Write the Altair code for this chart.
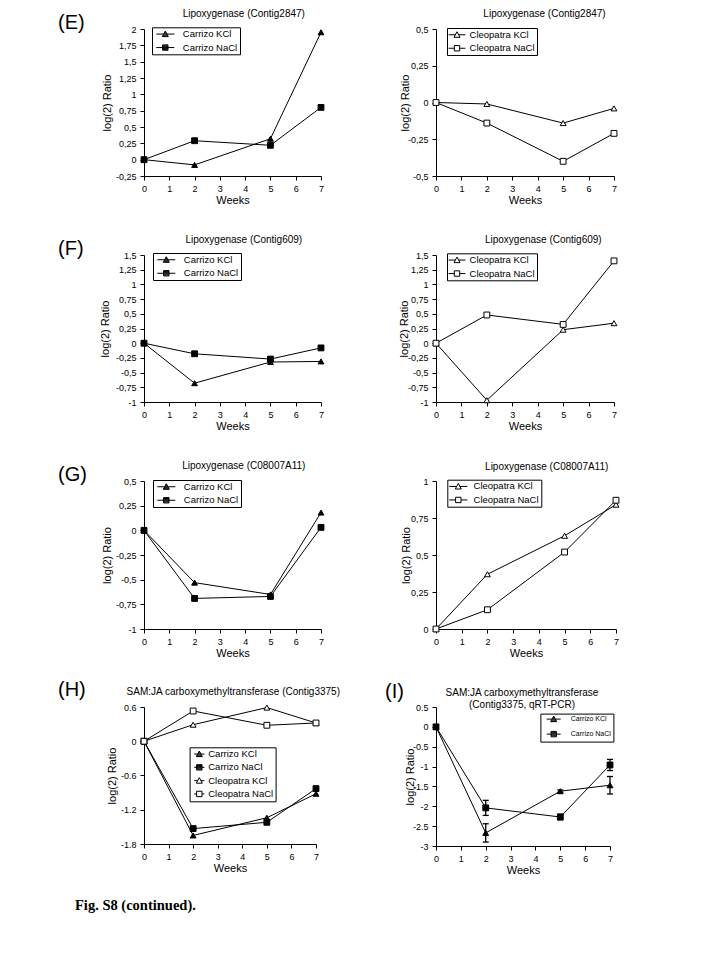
import altair as alt
import pandas as pd

FONT = "Liberation Sans"

weeks = [0, 2, 5, 7]

# (E) Lipoxygenase (Contig2847)
e_carrizo_kcl = [0, -0.08, 0.32, 1.95]
e_carrizo_nacl = [0, 0.29, 0.22, 0.80]
e_cleo_kcl = [0, -0.01, -0.14, -0.04]
e_cleo_nacl = [0, -0.14, -0.40, -0.21]

# (F) Lipoxygenase (Contig609)
f_carrizo_kcl = [0, -0.68, -0.32, -0.31]
f_carrizo_nacl = [0, -0.18, -0.27, -0.08]
f_cleo_kcl = [0, -0.97, 0.23, 0.34]
f_cleo_nacl = [0, 0.48, 0.32, 1.40]

# (G) Lipoxygenase (C08007A11)
g_carrizo_kcl = [0, -0.53, -0.65, 0.18]
g_carrizo_nacl = [0, -0.69, -0.67, 0.03]
g_cleo_kcl = [0, 0.37, 0.63, 0.84]
g_cleo_nacl = [0, 0.13, 0.52, 0.87]

# (H) SAM:JA carboxymethyltransferase (Contig3375)
h_carrizo_kcl = [0, -1.65, -1.34, -0.92]
h_carrizo_nacl = [0, -1.53, -1.42, -0.83]
h_cleo_kcl = [0, 0.29, 0.59, 0.32]
h_cleo_nacl = [0, 0.53, 0.28, 0.32]

# (I) qRT-PCR with error bars
i_carrizo_kcl = [0, -2.67, -1.62, -1.47]
i_carrizo_kcl_err = [0, 0.23, 0.03, 0.22]
i_carrizo_nacl = [0, -2.04, -2.27, -0.96]
i_carrizo_nacl_err = [0, 0.19, 0.07, 0.14]

ticks_e_left = [-0.25, 0, 0.25, 0.5, 0.75, 1, 1.25, 1.5, 1.75, 2]
ticks_e_right = [-0.5, -0.25, 0, 0.25, 0.5]
ticks_f = [-1, -0.75, -0.5, -0.25, 0, 0.25, 0.5, 0.75, 1, 1.25, 1.5]
ticks_g_left = [-1, -0.75, -0.5, -0.25, 0, 0.25, 0.5]
ticks_g_right = [0, 0.25, 0.5, 0.75, 1]
ticks_h = [-1.8, -1.2, -0.6, 0, 0.6]
ticks_i = [-3, -2.5, -2, -1.5, -1, -0.5, 0, 0.5]
week_ticks = [0, 1, 2, 3, 4, 5, 6, 7]

ALL_SERIES = ["Carrizo KCl", "Carrizo NaCl", "Cleopatra KCl", "Cleopatra NaCl"]
ALL_SHAPES = ["triangle-up", "square", "triangle-up", "square"]
ALL_FILLS = ["black", "black", "white", "white"]

TRI_OUT = "M0,-1L1,0.85L-1,0.85Z"
TRI_FILL = ("M-0.18,-0.67L0.18,-0.67M-0.36,-0.33L0.36,-0.33M-0.54,0L0.54,0"
            "M-0.72,0.33L0.72,0.33M-0.9,0.67L0.9,0.67")
SQ_OUT = "M-0.9,-0.9L0.9,-0.9L0.9,0.9L-0.9,0.9Z"
SQ_FILL = ("M-0.9,-0.6L0.9,-0.6M-0.9,-0.3L0.9,-0.3M-0.9,0L0.9,0"
           "M-0.9,0.3L0.9,0.3M-0.9,0.6L0.9,0.6")


def legend_path(name, stub):
    s = f"{stub:.2f}"
    if "KCl" in name:
        p = f"M-{s},0L-0.54,0M0.54,0L{s},0" + TRI_OUT
        if name.startswith("Carrizo"):
            p += TRI_FILL
    else:
        p = f"M-{s},0L-0.9,0M0.9,0L{s},0" + SQ_OUT
        if name.startswith("Carrizo"):
            p += SQ_FILL
    return p


def make_df(series, key):
    rows = []
    for name, vals in series:
        for w, v in zip(weeks, vals):
            rows.append({"week": w, "value": v, "series": name, "leg_" + key: name})
    return pd.DataFrame(rows)


def text_layer(txt, tx, ty, font=FONT, fs=10, weight="normal", align="left",
               baseline="alphabetic"):
    return alt.Chart(pd.DataFrame({"t": [txt]})).mark_text(
        font=font, fontSize=fs, fontWeight=weight, align=align, baseline=baseline,
        color="black", lineBreak="\n", lineHeight=12.5,
    ).encode(text="t:N", x=alt.value(tx), y=alt.value(ty))


def panel(key, series, ydom, yvals, w, h, title, tx, ty, ytp, lx, ly,
          stub, center_in, label_in, lfs=9.5, rp=2.5, comma=True,
          extra=(), errors=None):
    df = make_df(series, key)
    names = [n for n, _ in series]
    expr = "replace(toString(datum.value), '.', ',')" if comma else "toString(datum.value)"
    x = alt.X("week:Q", scale=alt.Scale(domain=[0, 7], nice=False, zero=False),
              axis=alt.Axis(values=week_ticks, title="Weeks", labelFlush=False,
                            labelOverlap=False, labelPadding=4, titlePadding=1))
    y = alt.Y("value:Q", scale=alt.Scale(domain=ydom, nice=False, zero=False),
              axis=alt.Axis(values=yvals, labelExpr=expr, title="log(2) Ratio",
                            titlePadding=ytp, minExtent=22, maxExtent=22,
                            labelOverlap=False, labelPadding=4))
    pad = 2
    size = max(7, lfs)
    so = center_in - pad - size / 2
    lo = label_in - pad - size
    legend = alt.Legend(
        title=None, orient="none", legendX=lx, legendY=ly,
        strokeColor="black", fillColor="white", padding=pad,
        labelFont=FONT, labelFontSize=lfs, labelColor="black",
        symbolSize=36, symbolOffset=so, labelOffset=lo, rowPadding=rp,
        symbolOpacity=1, symbolStrokeColor="black", symbolStrokeWidth=1,
        symbolFillColor="white",
    )
    paths = [legend_path(n, stub) for n in names]
    base = alt.Chart(df)
    layers = []
    if errors is not None:
        edf, cdf = errors
        layers.append(alt.Chart(edf).mark_rule(color="black", strokeWidth=1.3).encode(
            x=x, y=y, y2="value2:Q"))
        layers.append(alt.Chart(cdf).mark_tick(color="black", orient="horizontal",
                                               size=6, thickness=1.3, opacity=1).encode(x=x, y=y))
    layers.append(base.mark_line(color="black", strokeWidth=1).encode(
        x=x, y=y, detail="series:N"))
    layers.append(base.mark_point(stroke="black", strokeWidth=1, opacity=1, size=34).encode(
        x=x, y=y,
        shape=alt.Shape("series:N", scale=alt.Scale(domain=ALL_SERIES, range=ALL_SHAPES),
                        legend=None),
        fill=alt.Fill("series:N", scale=alt.Scale(domain=ALL_SERIES, range=ALL_FILLS),
                      legend=None),
    ))
    # invisible layer that only supplies the legend (line + marker symbols)
    layers.append(base.mark_point(color="black", filled=False, opacity=0, size=36,
                                  strokeWidth=1).encode(
        x=x, y=y,
        shape=alt.Shape("leg_" + key + ":N", scale=alt.Scale(domain=names, range=paths),
                        legend=legend),
    ))
    layers.append(text_layer(title, tx, ty, align="center"))
    for item in extra:
        layers.append(item)
    return alt.layer(*layers).resolve_scale(shape="independent").properties(
        width=w, height=h)


def plabel(txt, tx, ty):
    return text_layer(txt, tx, ty, fs=20, baseline="middle")


e_l = panel("el", [("Carrizo KCl", e_carrizo_kcl), ("Carrizo NaCl", e_carrizo_nacl)],
            [-0.25, 2], ticks_e_left, 177, 147, "Lipoxygenase (Contig2847)",
            99.8, -12.5, 10, 8, -1.7, 3, 13.3, 24.3, extra=[plabel("(E)", -86, -6)])
e_r = panel("er", [("Cleopatra KCl", e_cleo_kcl), ("Cleopatra NaCl", e_cleo_nacl)],
            [-0.5, 0.5], ticks_e_right, 178, 147, "Lipoxygenase (Contig2847)",
            108.5, -11.7, 3.7, 11, -1, 2.8, 10, 19.3)
f_l = panel("fl", [("Carrizo KCl", f_carrizo_kcl), ("Carrizo NaCl", f_carrizo_nacl)],
            [-1, 1.5], ticks_f, 177, 147, "Lipoxygenase (Contig609)",
            99.8, -11.7, 11.2, 9, -2, 3, 13.3, 24.3, extra=[plabel("(F)", -86, -5.6)])
f_r = panel("fr", [("Cleopatra KCl", f_cleo_kcl), ("Cleopatra NaCl", f_cleo_nacl)],
            [-1, 1.5], ticks_f, 178, 147, "Lipoxygenase (Contig609)",
            107.3, -12.4, 4.8, 11, -1.7, 2.8, 10, 19.3)
g_l = panel("gl", [("Carrizo KCl", g_carrizo_kcl), ("Carrizo NaCl", g_carrizo_nacl)],
            [-1, 0.5], ticks_g_left, 177, 148, "Lipoxygenase (C08007A11)",
            99.8, -11.7, 9.5, 9, -1, 3, 13.3, 24.3, extra=[plabel("(G)", -86, -6)])
g_r = panel("gr", [("Cleopatra KCl", g_cleo_kcl), ("Cleopatra NaCl", g_cleo_nacl)],
            [0, 1], ticks_g_right, 180, 148, "Lipoxygenase (C08007A11)",
            110.7, -10.7, 2.8, 11.3, -1.3, 3, 11, 22)
h_p = panel("h", [("Carrizo KCl", h_carrizo_kcl), ("Carrizo NaCl", h_carrizo_nacl),
                  ("Cleopatra KCl", h_cleo_kcl), ("Cleopatra NaCl", h_cleo_nacl)],
            [-1.8, 0.6], ticks_h, 172, 137,
            "SAM:JA carboxymethyltransferase (Contig3375)",
            89.3, -11.7, 4.5, 45.6, 40.3, 1.7, 9.7, 15.7, rp=2.3, comma=False,
            extra=[plabel("(H)", -86, -17),
                   text_layer("Fig. S8 (continued).", -69, 203, font="Liberation Serif",
                              fs=14.5, weight="bold")])

err_rows, cap_rows = [], []
for name, vals, errs in [("Carrizo KCl", i_carrizo_kcl, i_carrizo_kcl_err),
                         ("Carrizo NaCl", i_carrizo_nacl, i_carrizo_nacl_err)]:
    for wk, v, e in zip(weeks, vals, errs):
        if e > 0:
            err_rows.append({"week": wk, "value": v - e, "value2": v + e})
            cap_rows.append({"week": wk, "value": v - e})
            cap_rows.append({"week": wk, "value": v + e})
i_p = panel("i", [("Carrizo KCl", i_carrizo_kcl), ("Carrizo NaCl", i_carrizo_nacl)],
            [-3, 0.5], ticks_i, 174, 139,
            "SAM:JA carboxymethyltransferase\n(Contig3375, qRT-PCR)",
            86, -11.5, -1, 104.4, 6.6, 2.33, 13.3, 22.6, lfs=7, rp=4, comma=False,
            extra=[plabel("(I)", -51, -15)],
            errors=(pd.DataFrame(err_rows), pd.DataFrame(cap_rows)))

chart = alt.concat(e_l, e_r, f_l, f_r, g_l, g_r, h_p, i_p, columns=2,
                   spacing={"row": 78, "column": 112}).resolve_scale(
    shape="independent", fill="independent").properties(
    bounds="flush", align="all", background="white",
    padding={"left": 50, "top": 0, "right": 5, "bottom": 5},
).configure_view(stroke=None).configure_axis(
    domainColor="black", tickColor="black", labelColor="black", titleColor="black",
    labelFont=FONT, titleFont=FONT, labelFontSize=9, titleFontSize=11,
    titleFontWeight="normal", grid=False, tickSize=4,
    domainWidth=1, tickWidth=1,
)

chart.save("out.html", embed_options={"renderer": "svg", "actions": False})
